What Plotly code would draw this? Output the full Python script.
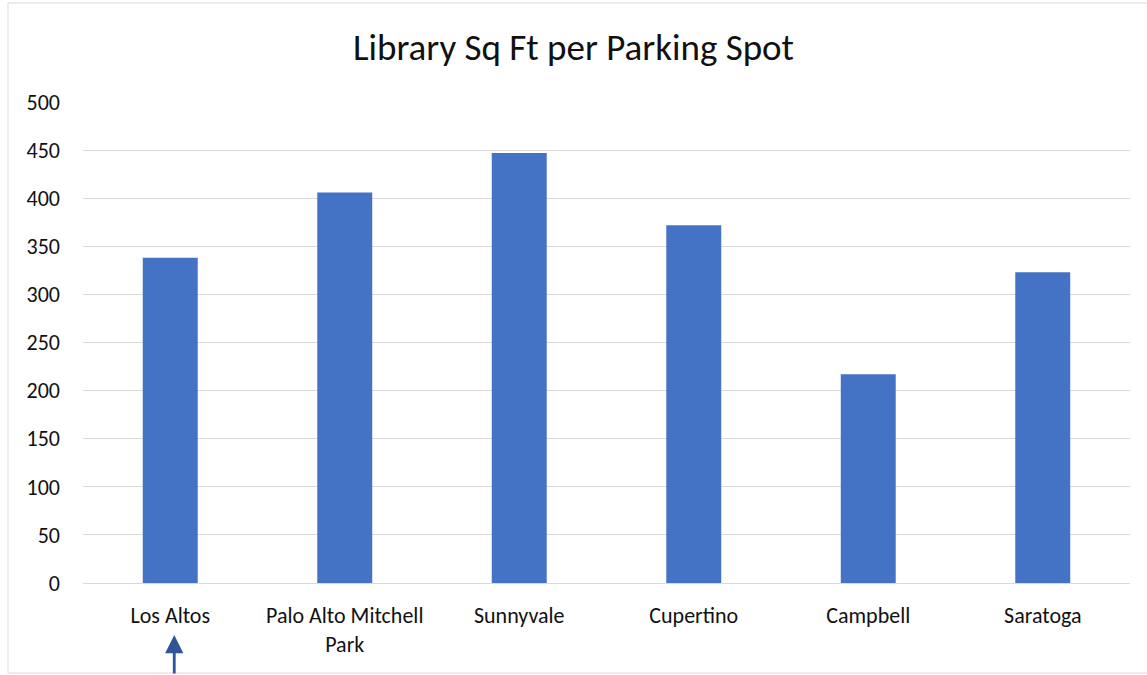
import plotly.graph_objects as go

categories = ["Los Altos", "Palo Alto Mitchell<br>Park", "Sunnyvale", "Cupertino", "Campbell", "Saratoga"]
values = [338, 406, 447, 372, 217, 323]
y_ticks = [0, 50, 100, 150, 200, 250, 300, 350, 400, 450, 500]

W, H = 1147, 675
ML, MR, MT, MB = 83, 17, 102, 92
pw = W - ML - MR
ph = H - MT - MB

def px_x(x):
    return (x - ML) / pw

def px_y(y):
    return (H - MB - y) / ph

font_family = "Carlito, Lato, 'Open Sans', sans-serif"

fig = go.Figure(go.Bar(
    x=categories, y=values,
    marker=dict(color="#4472C4", line=dict(width=0)),
    width=0.315,
))

fig.update_layout(
    width=W, height=H,
    margin=dict(l=ML, r=MR, t=MT, b=MB),
    paper_bgcolor="white", plot_bgcolor="white",
    showlegend=False,
    title=dict(text="Library Sq Ft per Parking Spot", x=0.5, xanchor="center",
               xref="container", y=1 - 47 / H, yref="container", yanchor="middle",
               font=dict(family=font_family, size=37, color="#111111")),
    font=dict(family=font_family, size=23, color="#111111"),
    bargap=0.685,
)
fig.update_yaxes(range=[0, 500], tickvals=y_ticks, showgrid=True, gridcolor="#D9D9D9",
                 gridwidth=1, zeroline=False, showline=False, ticks="",
                 ticklabelstandoff=22, tickfont=dict(size=22))
fig.update_xaxes(showline=True, linecolor="#D9D9D9", linewidth=1, ticks="",
                 ticklabelstandoff=13, tickfont=dict(size=22))

# Chart border (left, top, bottom)
fig.add_shape(type="rect", xref="paper", yref="paper",
              x0=px_x(8), x1=px_x(1150), y0=px_y(673), y1=px_y(3),
              line=dict(color="#D9D9D9", width=1), fillcolor="rgba(0,0,0,0)", layer="below")

# Arrow under Los Altos
fig.add_annotation(x=categories[0], y=px_y(635), xref="x", yref="paper",
                   ax=0, ay=45, axref="pixel", ayref="pixel",
                   text="", showarrow=True, arrowhead=2, arrowsize=1.3,
                   arrowwidth=2.8, arrowcolor="#2F5597", xshift=4)

fig.write_html("out.html", config={"displayModeBar": False},
               post_script="document.body.style.margin='0';")
